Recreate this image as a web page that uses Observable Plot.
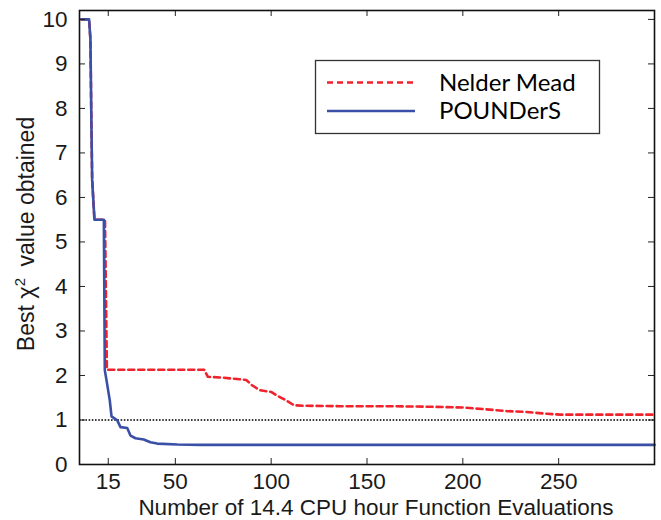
<!DOCTYPE html>
<html><head><meta charset="utf-8">
<script src="https://cdn.jsdelivr.net/npm/d3@7"></script>
<script src="https://cdn.jsdelivr.net/npm/@observablehq/plot@0.6"></script>
<style>body{margin:0;background:#fff} #chart{width:661px;height:520px}</style>
</head><body><div id="chart"></div>
<script>
// ---- data ----
const xTicks = [15, 50, 100, 150, 200, 250];
const yTicks = [0, 1, 2, 3, 4, 5, 6, 7, 8, 9, 10];
const seriesNames = ["Nelder Mead", "POUNDerS"];
const xTitle = "Number of 14.4 CPU hour Function Evaluations";
const yTitleParts = ["Best ", "χ", "2", " value obtained"];
const thresholdY = [1];

const nelderX = [1, 5, 5.7, 6.2, 6.6, 7.8, 13.3, 14.3, 65, 67, 75, 87, 90, 94, 100, 103, 107, 112, 117, 136, 160, 180, 200, 212, 223, 233, 244, 251, 300];
const nelderY = [10, 10, 9.55, 7.7, 6.4, 5.5, 5.5, 2.13, 2.13, 1.97, 1.95, 1.9, 1.78, 1.67, 1.63, 1.55, 1.46, 1.33, 1.32, 1.31, 1.31, 1.30, 1.28, 1.24, 1.20, 1.18, 1.14, 1.12, 1.12];

const poundersX = [1, 5, 5.7, 6.2, 6.6, 7.8, 12.7, 13.2, 14.1, 15.8, 16.7, 19.7, 21.4, 24.9, 26.6, 29.2, 33.5, 37, 40.5, 51, 63, 300];
const poundersY = [10, 10, 9.55, 7.7, 6.4, 5.5, 5.5, 2.12, 1.89, 1.44, 1.08, 0.99, 0.84, 0.82, 0.65, 0.59, 0.56, 0.50, 0.47, 0.45, 0.44, 0.44];

const colors = ["#f0222c", "#3a4fa6"];
const dashes = ["6,4", null];

// ---- build tables ----
const nelder = nelderX.map((x, i) => ({x, y: nelderY[i]}));
const pounders = poundersX.map((x, i) => ({x, y: poundersY[i]}));

const W = 661, H = 520;
const mL = 79, mR = 7, mT = 10, mB = 56;
const innerW = W - mL - mR, innerH = H - mT - mB;
const T = 6;

const plot = Plot.plot({
  width: W, height: H,
  marginLeft: mL, marginRight: mR, marginTop: mT, marginBottom: mB,
  style: {fontFamily: "'Liberation Sans', Arial, sans-serif", fontSize: "22.5px", color: "#1a1a1a", background: "#fff"},
  x: {domain: [0, 300]},
  y: {domain: [0, 10.2]},
  marks: [
    Plot.ruleY(thresholdY, {stroke: "#000", strokeWidth: 1.3, strokeDasharray: "1.6,1.6"}),
    Plot.line(nelder, {x: "x", y: "y", stroke: colors[0], strokeWidth: 2.6, strokeDasharray: dashes[0]}),
    Plot.line(pounders, {x: "x", y: "y", stroke: colors[1], strokeWidth: 2.6}),
    // inward ticks on all four sides
    Plot.tickX(xTicks, {x: d => d, insetTop: innerH - T, stroke: "#222"}),
    Plot.tickX(xTicks, {x: d => d, insetBottom: innerH - T, stroke: "#222"}),
    Plot.tickY(yTicks, {y: d => d, insetRight: innerW - T, stroke: "#222"}),
    Plot.tickY(yTicks, {y: d => d, insetLeft: innerW - T, stroke: "#222"}),
    Plot.axisX({ticks: xTicks, tickSize: 0, tickPadding: 9, label: null}),
    Plot.axisY({ticks: yTicks, tickSize: 0, tickPadding: 12, label: null}),
    Plot.frame({stroke: "#111", strokeWidth: 1.6})
  ]
});
document.getElementById("chart").appendChild(plot);

const svg = d3.select(plot);
// x title
svg.append("text").attr("x", 376).attr("y", 515).attr("text-anchor", "middle")
  .style("font-family", "'Liberation Sans', Arial, sans-serif").style("font-size", "22.5px").attr("fill", "#1a1a1a")
  .text(xTitle);
// y title with superscript
const yl = svg.append("text").attr("transform", "translate(34,234) rotate(-90)").attr("text-anchor", "middle")
  .style("font-family", "'Liberation Sans', Arial, sans-serif").style("font-size", "23px").attr("fill", "#1a1a1a");
yl.append("tspan").text(yTitleParts[0]);
yl.append("tspan").text(yTitleParts[1]).style("font-size", "24px");
yl.append("tspan").text(yTitleParts[2]).attr("dy", "-9").style("font-size", "15px");
yl.append("tspan").text(yTitleParts[3]).attr("dy", "9").attr("dx", "5");

// legend
const lg = svg.append("g");
lg.append("rect").attr("x", 315.5).attr("y", 60.5).attr("width", 284).attr("height", 73)
  .attr("fill", "#fff").attr("stroke", "#333").attr("stroke-width", 1.3);
const lgY = [82.5, 111];
seriesNames.forEach((name, i) => {
  lg.append("line").attr("x1", 327).attr("x2", 415).attr("y1", lgY[i]).attr("y2", lgY[i])
    .attr("stroke", colors[i]).attr("stroke-width", 2.6).attr("stroke-dasharray", dashes[i]);
  lg.append("text").attr("x", 439).attr("y", lgY[i] + 8).attr("text-anchor", "start")
    .style("font-family", "Lato, 'Open Sans', sans-serif")
    .style("font-size", "24px").attr("fill", "#000").text(name);
});
</script>
</body></html>
